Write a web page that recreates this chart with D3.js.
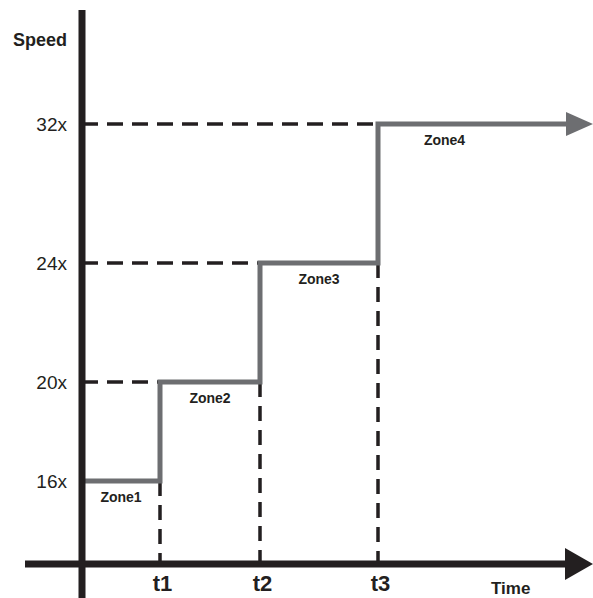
<!DOCTYPE html>
<html>
<head>
<meta charset="utf-8">
<script src="https://cdn.jsdelivr.net/npm/d3@7"></script>
<style>
  body { margin: 0; background: #fff; }
  text { font-family: "Liberation Sans", Arial, Helvetica, sans-serif; fill: #231f20; }
</style>
</head>
<body>
<div id="vis"></div>
<script>
const FRAME_WIDTH = 593;
const FRAME_HEIGHT = 598;

// data
const times = [0, 1, 2, 3, 4];              // 4 = end of arrow
const timeLabels = ["t1", "t2", "t3"];
const speeds = [16, 20, 24, 32];
const speedLabels = ["16x", "20x", "24x", "32x"];
const zones = ["Zone1", "Zone2", "Zone3", "Zone4"];
const zoneMid = [0.5, 1.5, 2.5, 3.35];

const AXIS_COLOR = "#231f20";
const STEP_COLOR = "#6d6e71";

const FRAME = d3.select("#vis")
  .append("svg")
    .attr("width", FRAME_WIDTH)
    .attr("height", FRAME_HEIGHT);

// scales (piecewise, the drawing is not to scale)
const X_SCALE = d3.scaleLinear()
  .domain(times)
  .range([82, 160, 260, 378, 568]);

const Y_SCALE = d3.scaleLinear()
  .domain(speeds)
  .range([481, 382, 263, 124]);

const ORIGIN_Y = 564;

// dashed guide lines
const steps = speeds.map((s, i) => ({ t: i, s: s }));

FRAME.selectAll(".hguide")
  .data(steps.slice(1))
  .enter()
  .append("line")
    .attr("x1", X_SCALE(0))
    .attr("x2", d => X_SCALE(d.t))
    .attr("y1", d => Y_SCALE(d.s))
    .attr("y2", d => Y_SCALE(d.s))
    .attr("stroke", AXIS_COLOR)
    .attr("stroke-width", 3.5)
    .attr("stroke-dasharray", "16,9");

FRAME.selectAll(".vguide")
  .data(steps.slice(0, 3))
  .enter()
  .append("line")
    .attr("x1", d => X_SCALE(d.t + 1))
    .attr("x2", d => X_SCALE(d.t + 1))
    .attr("y1", d => Y_SCALE(d.s))
    .attr("y2", ORIGIN_Y)
    .attr("stroke", AXIS_COLOR)
    .attr("stroke-width", 3.5)
    .attr("stroke-dasharray", "15,9");

// step line
const stepPts = [];
steps.forEach((d, i) => {
  stepPts.push([X_SCALE(i), Y_SCALE(d.s)]);
  stepPts.push([X_SCALE(i + 1), Y_SCALE(d.s)]);
});

FRAME.append("path")
  .attr("d", d3.line()(stepPts))
  .attr("fill", "none")
  .attr("stroke", STEP_COLOR)
  .attr("stroke-width", 5)
  .attr("stroke-linejoin", "miter");

// arrow head on step line
const endX = X_SCALE(4), endY = Y_SCALE(32);
FRAME.append("path")
  .attr("d", `M${endX - 2},${endY - 12}L${endX + 25},${endY}L${endX - 2},${endY + 12}Z`)
  .attr("fill", STEP_COLOR);

// axes lines
FRAME.append("line")
  .attr("x1", 82).attr("x2", 82)
  .attr("y1", 10).attr("y2", FRAME_HEIGHT)
  .attr("stroke", AXIS_COLOR)
  .attr("stroke-width", 7);

FRAME.append("line")
  .attr("x1", 25).attr("x2", 568)
  .attr("y1", ORIGIN_Y).attr("y2", ORIGIN_Y)
  .attr("stroke", AXIS_COLOR)
  .attr("stroke-width", 7);

FRAME.append("path")
  .attr("d", `M565,${ORIGIN_Y - 16}L593,${ORIGIN_Y}L565,${ORIGIN_Y + 16}Z`)
  .attr("fill", AXIS_COLOR);

// y tick labels
const yAxis = FRAME.append("g")
  .attr("transform", "translate(82,0)")
  .call(d3.axisLeft(Y_SCALE)
    .tickValues(speeds)
    .tickFormat((d, i) => speedLabels[i])
    .tickSize(0)
    .tickPadding(15));
yAxis.select(".domain").remove();
yAxis.selectAll("text")
  .attr("font-family", "Liberation Sans, Arial, sans-serif")
  .attr("font-size", "19px")
  .attr("fill", AXIS_COLOR);

// x tick labels
const xAxis = FRAME.append("g")
  .attr("transform", "translate(0," + ORIGIN_Y + ")")
  .call(d3.axisBottom(X_SCALE)
    .tickValues([1, 2, 3])
    .tickFormat((d, i) => timeLabels[i])
    .tickSize(0)
    .tickPadding(11));
xAxis.select(".domain").remove();
xAxis.selectAll("text")
  .attr("font-family", "Liberation Sans, Arial, sans-serif")
  .attr("font-size", "22px")
  .attr("font-weight", "bold")
  .attr("dx", "2px")
  .attr("fill", AXIS_COLOR);

// zone labels
FRAME.selectAll(".zone")
  .data(zones)
  .enter()
  .append("text")
    .attr("x", (d, i) => X_SCALE(zoneMid[i]))
    .attr("y", (d, i) => Y_SCALE(speeds[i]) + 21)
    .attr("text-anchor", "middle")
    .attr("font-size", "14px")
    .attr("font-weight", "bold")
    .text(d => d);

// axis titles
FRAME.append("text")
  .attr("x", 13).attr("y", 46)
  .attr("font-size", "18px")
  .attr("font-weight", "bold")
  .text("Speed");

FRAME.append("text")
  .attr("x", 491).attr("y", 594)
  .attr("font-size", "17px")
  .attr("font-weight", "bold")
  .text("Time");
</script>
</body>
</html>
